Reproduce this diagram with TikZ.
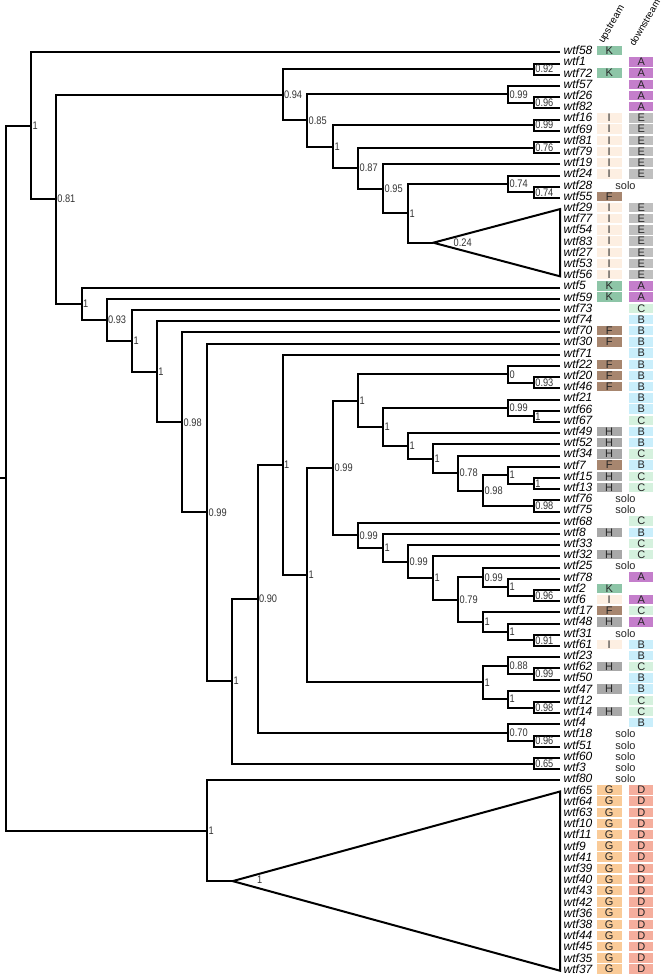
\documentclass[tikz,border=0pt]{standalone}
\usepackage{fontspec}
\setmainfont{Liberation Sans}
\newfontfamily\narrowfont[FakeStretch=0.84]{Liberation Sans}
\usetikzlibrary{calc}
\definecolor{cK}{HTML}{8DC5A7}
\definecolor{cA}{HTML}{C47ECB}
\definecolor{cI}{HTML}{FDEFE2}
\definecolor{cE}{HTML}{BFBFBF}
\definecolor{cF}{HTML}{A7866F}
\definecolor{cC}{HTML}{D5F1DE}
\definecolor{cB}{HTML}{C9EEFB}
\definecolor{cH}{HTML}{A8A8A8}
\definecolor{cG}{HTML}{FACB98}
\definecolor{cD}{HTML}{F5AE9D}
\tikzset{
  branch/.style={line width=2pt, black},
  blab/.style={anchor=west, inner sep=1.2pt, font=\narrowfont\fontsize{11pt}{11pt}\selectfont, text=black!80},
  leaf/.style={anchor=west, inner sep=1pt, xshift=2.5pt, yshift=1.8pt, font=\fontsize{12pt}{12pt}\selectfont\itshape},
  tagbox/.style={inner sep=0pt, minimum height=9.5pt, font=\fontsize{11pt}{11pt}\selectfont, text=black!85},
  ubox/.style={tagbox, minimum width=25pt},
  dbox/.style={tagbox, minimum width=24pt},
  hdr/.style={anchor=base west, rotate=60, inner sep=0pt, font=\fontsize{10pt}{10pt}\selectfont},
}
% internal node: name, x, child1, child2, support label
\newcommand\inode[5]{%
  \path let \p1=(#3), \p2=(#4) in (#2pt, {(\y1+\y2)/2}) coordinate (#1);
  \draw[branch] (#3) -| (#1) |- (#4);
  \node[blab] (#1-l) at (#1) {#5};
}
% collapsed clade: name, x, top leaf, bottom leaf
\newcommand\tri[4]{%
  \path let \p1=(#3), \p2=(#4) in (#2pt, {(\y1+\y2)/2}) coordinate (#1);
  \draw[branch] (#1) -- (#3) -- (#4) -- cycle;
}
\begin{document}
\begin{tikzpicture}[x=1pt, y=-1pt]
\useasboundingbox (0,0) rectangle (664,975);
% leaves
\foreach \i/\n in {0/58,1/1,2/72,3/57,4/26,5/82,6/16,7/69,8/81,9/79,10/19,11/24,12/28,13/55,14/29,15/77,16/54,17/83,18/27,19/53,20/56,21/5,22/59,23/73,24/74,25/70,26/30,27/71,28/22,29/20,30/46,31/21,32/66,33/67,34/49,35/52,36/34,37/7,38/15,39/13,40/76,41/75,42/68,43/8,44/33,45/32,46/25,47/78,48/2,49/6,50/17,51/48,52/31,53/61,54/23,55/62,56/50,57/47,58/12,59/14,60/4,61/18,62/51,63/60,64/3,65/80,66/65,67/64,68/63,69/10,70/11,71/9,72/41,73/39,74/40,75/43,76/42,77/36,78/38,79/44,80/45,81/35,82/37}{
  \coordinate (L\i) at (560, {52.3+11.2*\i});
  \node[leaf] (T\i) at (L\i) {wtf\n};
}
% upstream tags
\foreach \i/\u in {0/K,2/K,6/I,7/I,8/I,9/I,10/I,11/I,13/F,14/I,15/I,16/I,17/I,18/I,19/I,20/I,21/K,22/K,25/F,26/F,28/F,29/F,30/F,34/H,35/H,36/H,37/F,38/H,39/H,43/H,45/H,48/K,49/I,50/F,51/H,53/I,55/H,57/H,59/H,66/G,67/G,68/G,69/G,70/G,71/G,72/G,73/G,74/G,75/G,76/G,77/G,78/G,79/G,80/G,81/G,82/G}{
  \node[ubox, fill=c\u] (U\i) at ([xshift=49.2pt, yshift=1.6pt]L\i) {\u};
}
% downstream tags
\foreach \i/\d in {1/A,2/A,3/A,4/A,5/A,6/E,7/E,8/E,9/E,10/E,11/E,14/E,15/E,16/E,17/E,18/E,19/E,20/E,21/A,22/A,23/C,24/B,25/B,26/B,27/B,28/B,29/B,30/B,31/B,32/B,33/C,34/B,35/B,36/C,37/B,38/C,39/C,42/C,43/B,44/C,45/C,47/A,49/A,50/C,51/A,53/B,54/B,55/C,56/B,57/B,58/C,59/C,60/B,66/D,67/D,68/D,69/D,70/D,71/D,72/D,73/D,74/D,75/D,76/D,77/D,78/D,79/D,80/D,81/D,82/D}{
  \node[dbox, fill=c\d] (D\i) at ([xshift=81.3pt, yshift=1.6pt]L\i) {\d};
}
% solo
\foreach \i in {12,40,41,46,52,61,62,63,64,65}{
  \node[tagbox] (S\i) at ([xshift=65.5pt, yshift=1.6pt]L\i) {solo};
}
% header
\node[hdr] (hup) at (603.5,44) {upstream};
\node[hdr, font=\fontsize{9.5pt}{9.5pt}\selectfont] (hdown) at (634.5,47) {downstream};
% upper clade
\inode{a092}{534}{L1}{L2}{0.92}
\inode{a096}{534}{L4}{L5}{0.96}
\inode{a099}{508.3}{L3}{a096}{0.99}
\inode{a099b}{534}{L6}{L7}{0.99}
\inode{a076}{534}{L8}{L9}{0.76}
\inode{a074b}{534}{L12}{L13}{0.74}
\inode{a074}{508.3}{L11}{a074b}{0.74}
\tri{t024}{433.3}{L14}{L20}
\node[blab] (t024-l) at ([xshift=19pt]t024) {0.24};
\inode{a1a}{408.3}{a074}{t024}{1}
\inode{a095}{383.3}{L10}{a1a}{0.95}
\inode{a087}{358.3}{a076}{a095}{0.87}
\inode{a1b}{333.3}{a099b}{a087}{1}
\inode{a085}{307.3}{a099}{a1b}{0.85}
\inode{a094}{282.7}{a092}{a085}{0.94}
% middle clade
\inode{b093}{534}{L29}{L30}{0.93}
\inode{b0}{508.3}{L28}{b093}{0}
\inode{b1c}{534}{L32}{L33}{1}
\inode{b099c}{508.3}{L31}{b1c}{0.99}
\inode{b1d}{534}{L38}{L39}{1}
\inode{b1e}{508.3}{L37}{b1d}{1}
\inode{b098b}{534}{L40}{L41}{0.98}
\inode{b098a}{483.3}{b1e}{b098b}{0.98}
\inode{b078}{458.3}{L36}{b098a}{0.78}
\inode{b1f}{433.3}{L35}{b078}{1}
\inode{b1g}{408.3}{L34}{b1f}{1}
\inode{b1h}{383.3}{b099c}{b1g}{1}
\inode{b1i}{358.3}{b0}{b1h}{1}
\inode{c096}{534}{L48}{L49}{0.96}
\inode{c1j}{508.3}{L47}{c096}{1}
\inode{c099d}{483.3}{L46}{c1j}{0.99}
\inode{c091}{534}{L52}{L53}{0.91}
\inode{c1k}{508.3}{L51}{c091}{1}
\inode{c1l}{483.3}{L50}{c1k}{1}
\inode{c079}{458.3}{c099d}{c1l}{0.79}
\inode{c1m}{433.3}{L45}{c079}{1}
\inode{c099e}{408.3}{L44}{c1m}{0.99}
\inode{c1n}{383.3}{L43}{c099e}{1}
\inode{c099f}{358.3}{L42}{c1n}{0.99}
\inode{c099g}{333.3}{b1i}{c099f}{0.99}
\inode{d099}{534}{L55}{L56}{0.99}
\inode{d088}{508.3}{L54}{d099}{0.88}
\inode{d098}{534}{L58}{L59}{0.98}
\inode{d1o}{508.3}{L57}{d098}{1}
\inode{d1p}{483.3}{d088}{d1o}{1}
\inode{d1q}{307.3}{c099g}{d1p}{1}
\inode{d1r}{282.7}{L27}{d1q}{1}
\inode{d096}{534}{L61}{L62}{0.96}
\inode{d070}{508.3}{L60}{d096}{0.70}
\inode{d090}{257.7}{d1r}{d070}{0.90}
\inode{d065}{534}{L63}{L64}{0.65}
\inode{d1s}{232.3}{d090}{d065}{1}
\inode{d099i}{207.3}{L26}{d1s}{0.99}
\inode{d098d}{182.3}{L25}{d099i}{0.98}
\inode{d1t}{157}{L24}{d098d}{1}
\inode{d1u}{132.3}{L23}{d1t}{1}
\inode{d093}{106.7}{L22}{d1u}{0.93}
\inode{d1v}{81.7}{L21}{d093}{1}
\inode{e081}{56}{a094}{d1v}{0.81}
\inode{eA}{31.3}{L0}{e081}{1}
% lower clade
\tri{tG}{232.7}{L66}{L82}
\node[blab] (tG-l) at ([xshift=23pt, yshift=1pt]tG) {1};
\inode{eB}{207.3}{L65}{tG}{1}
% root
\inode{root}{6}{eA}{eB}{}
\path (root) ++(-6,0) coordinate (stub);
\draw[branch] (stub) -- (root);
\end{tikzpicture}
\end{document}
